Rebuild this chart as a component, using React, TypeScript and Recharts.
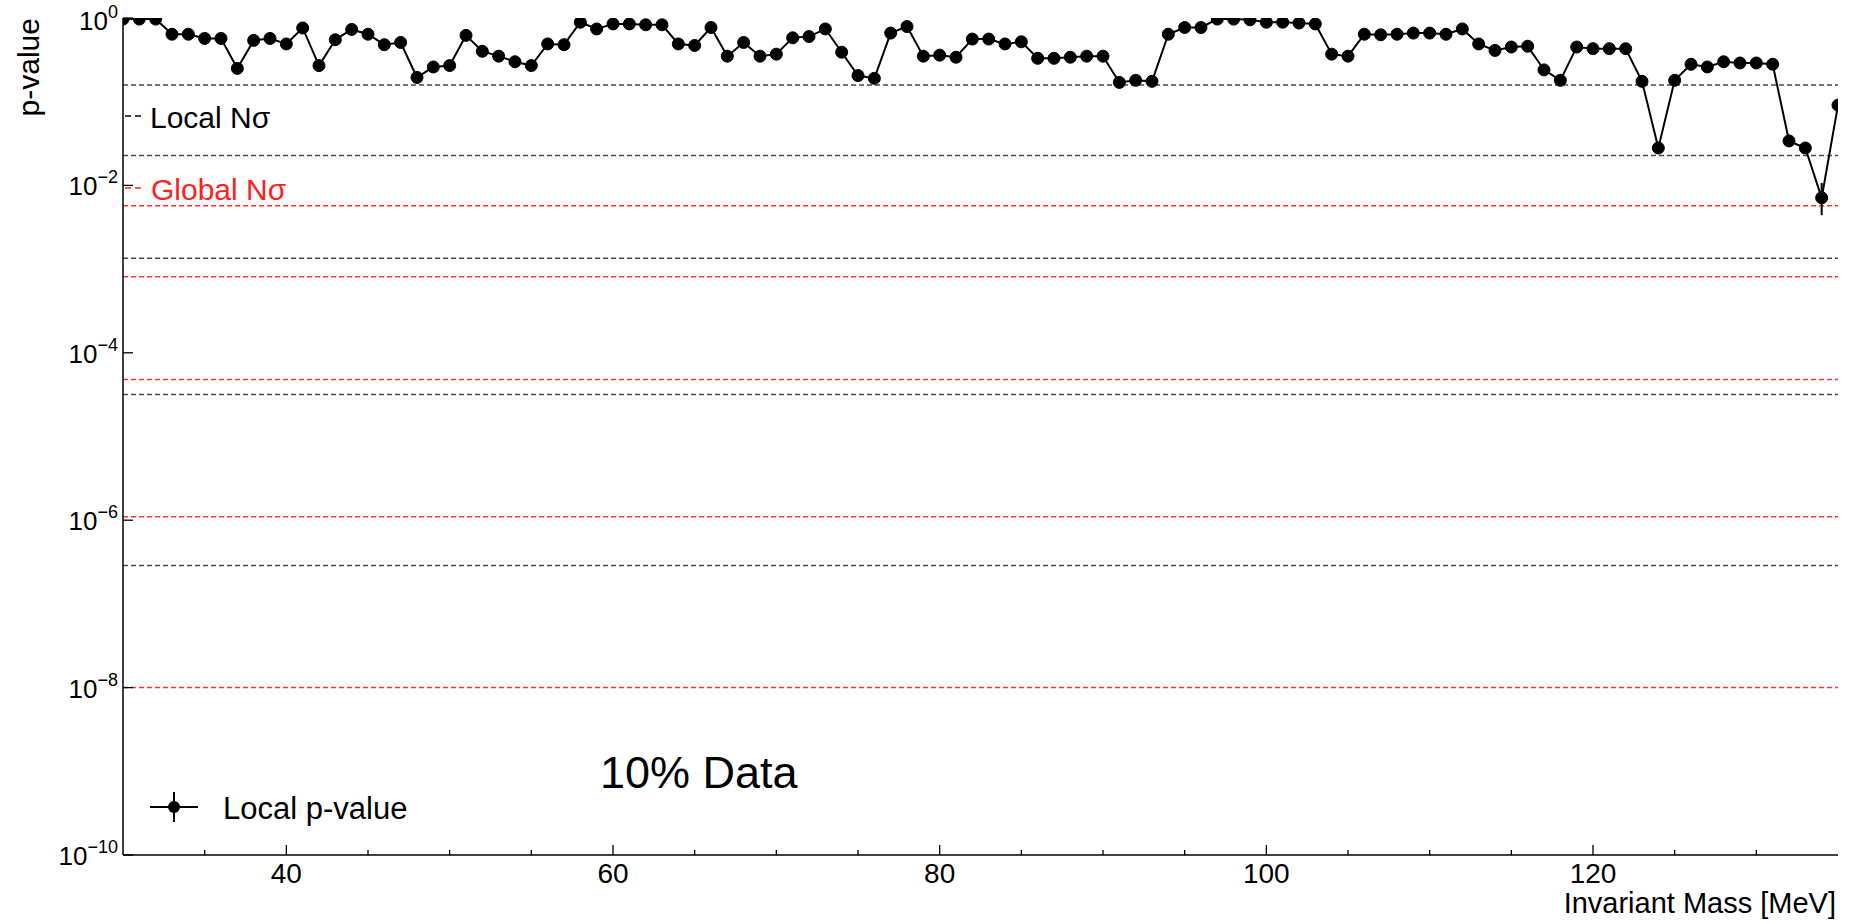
import { LineChart, Line, XAxis, YAxis, ReferenceLine, ErrorBar } from "recharts";

// invariant mass bins [MeV]
const masses = [
    30, 31, 32, 33, 34, 35, 36, 37, 38, 39, 40, 41, 42, 43, 44, 45, 46, 47, 48, 49,
    50, 51, 52, 53, 54, 55, 56, 57, 58, 59, 60, 61, 62, 63, 64, 65, 66, 67, 68, 69,
    70, 71, 72, 73, 74, 75, 76, 77, 78, 79, 80, 81, 82, 83, 84, 85, 86, 87, 88, 89,
    90, 91, 92, 93, 94, 95, 96, 97, 98, 99, 100, 101, 102, 103, 104, 105, 106, 107, 108, 109,
    110, 111, 112, 113, 114, 115, 116, 117, 118, 119, 120, 121, 122, 123, 124, 125, 126, 127, 128, 129,
    130, 131, 132, 133, 134, 135,
];

// local p-value per bin
const pValues = [
    0.97, 0.97, 0.97, 0.64, 0.64, 0.57, 0.57, 0.25, 0.54, 0.57,
    0.49, 0.76, 0.27, 0.55, 0.73, 0.64, 0.48, 0.51, 0.195, 0.26,
    0.27, 0.62, 0.40, 0.35, 0.30, 0.27, 0.49, 0.48, 0.89, 0.74,
    0.85, 0.85, 0.83, 0.83, 0.49, 0.47, 0.77, 0.35, 0.51, 0.35,
    0.37, 0.58, 0.60, 0.74, 0.39, 0.205, 0.19, 0.66, 0.79, 0.35,
    0.36, 0.34, 0.56, 0.56, 0.49, 0.52, 0.33, 0.33, 0.34, 0.35,
    0.35, 0.17, 0.18, 0.175, 0.64, 0.77, 0.77, 0.97, 0.97, 0.95,
    0.89, 0.89, 0.87, 0.85, 0.37, 0.35, 0.64, 0.63, 0.64, 0.66,
    0.66, 0.64, 0.74, 0.49, 0.41, 0.45, 0.46, 0.24, 0.18, 0.45,
    0.43, 0.43, 0.43, 0.175, 0.028, 0.18, 0.28, 0.26, 0.30, 0.29,
    0.29, 0.28, 0.034, 0.028, 0.0071, 0.091,
];

// [down, up] uncertainty where it sticks out of the marker
const pErrors: Record<number, [number, number]> = { 134: [0.0027, 0.0036] };

// local 1..5 sigma thresholds
const localSigmaP = [0.1587, 0.0228, 0.00135, 3.17e-5, 2.87e-7];
// local p-values matching global 1..5 sigma
const globalSigmaP = [0.0057, 8.1e-4, 4.8e-5, 1.1e-6, 1.0e-8];

const xTicks = [35, 40, 45, 50, 55, 60, 65, 70, 75, 80, 85, 90, 95, 100, 105, 110, 115, 120, 125, 130];
const xLabelTicks = [40, 60, 80, 100, 120];
const yTicks = [1e-10, 1e-8, 1e-6, 1e-4, 1e-2, 1];

const data = masses.map((m, i) => ({ mass: m, p: pValues[i], err: pErrors[m] ?? [0, 0] }));

const FONT = '"Liberation Sans", Arial, sans-serif';

function BottomTick({ x, y, payload }: any) {
    const major = xLabelTicks.includes(payload.value);
    return (
        <g>
            <line x1={x} y1={y} x2={x} y2={y - (major ? 10 : 5)} stroke="#000" strokeWidth={1.3} />
            {major && (
                <text x={x} y={y + 18} textAnchor="middle" dominantBaseline="central" fontSize={28} fontFamily={FONT} fill="#000">
                    {payload.value}
                </text>
            )}
        </g>
    );
}

function TopTick({ x, y, payload }: any) {
    const major = xLabelTicks.includes(payload.value);
    return <line x1={x} y1={y} x2={x} y2={y + (major ? 10 : 5)} stroke="#000" strokeWidth={1.3} />;
}

function LeftTick({ x, y, payload }: any) {
    const exp = Math.round(Math.log10(payload.value));
    const shift = exp === 0 ? 2 : 0;
    return (
        <g>
            <line x1={x} y1={y} x2={x + 10} y2={y} stroke="#000" strokeWidth={1.3} />
            <text x={x - 5} y={y + 1 + shift} textAnchor="end" dominantBaseline="central" fontSize={26} fontFamily={FONT} fill="#000">
                <tspan>10</tspan>
                <tspan dy={-9} fontSize={18}>{exp === 0 ? "0" : `\u2212${-exp}`}</tspan>
            </text>
        </g>
    );
}

function RightTick({ x, y }: any) {
    return <line x1={x} y1={y} x2={x - 10} y2={y} stroke="#000" strokeWidth={1.3} />;
}

export default function App() {
    return (
        <div style={{ position: "fixed", left: 0, top: 0, width: 1855, height: 924, background: "#fff" }}>
            <LineChart width={1855} height={924} data={data} margin={{ top: 18, right: 17, bottom: 0, left: 0 }}>
                <XAxis
                    dataKey="mass"
                    type="number"
                    domain={[30, 135]}
                    ticks={xTicks}
                    interval={0}
                    height={69}
                    tickSize={0}
                    tickMargin={0}
                    tick={<BottomTick />}
                    axisLine={{ stroke: "#000", strokeWidth: 1.5 }}
                    allowDataOverflow
                />
                <XAxis
                    xAxisId="top"
                    orientation="top"
                    dataKey="mass"
                    type="number"
                    domain={[30, 135]}
                    ticks={xTicks}
                    interval={0}
                    height={0}
                    tickSize={0}
                    tickMargin={0}
                    tick={<TopTick />}
                    axisLine={{ stroke: "#000", strokeWidth: 1.5 }}
                    allowDataOverflow
                />
                <YAxis
                    type="number"
                    scale="log"
                    domain={[1e-10, 1]}
                    ticks={yTicks}
                    interval={0}
                    width={123}
                    tickSize={0}
                    tickMargin={0}
                    tick={<LeftTick />}
                    axisLine={{ stroke: "#000", strokeWidth: 1.5 }}
                    allowDataOverflow
                />
                <YAxis
                    yAxisId="right"
                    orientation="right"
                    type="number"
                    scale="log"
                    domain={[1e-10, 1]}
                    ticks={yTicks}
                    interval={0}
                    width={0}
                    tickSize={0}
                    tickMargin={0}
                    tick={<RightTick />}
                    axisLine={{ stroke: "#000", strokeWidth: 1.5 }}
                    allowDataOverflow
                />
                {localSigmaP.map((p) => (
                    <ReferenceLine key={`l${p}`} y={p} stroke="#4a4a4a" strokeWidth={1.5} strokeDasharray="5 3" />
                ))}
                {globalSigmaP.map((p) => (
                    <ReferenceLine key={`g${p}`} y={p} stroke="#ff3333" strokeWidth={1.5} strokeDasharray="5 3" />
                ))}
                <Line
                    dataKey="p"
                    stroke="#000"
                    strokeWidth={2}
                    dot={{ r: 6, fill: "#000", stroke: "#000", strokeWidth: 1 }}
                    activeDot={false}
                    isAnimationActive={false}
                >
                    <ErrorBar dataKey="err" direction="y" width={0} stroke="#000" strokeWidth={2} />
                </Line>
            </LineChart>

            <svg width={1855} height={924} style={{ position: "absolute", left: 0, top: 0, pointerEvents: "none" }}>
                <text transform="translate(39,18) rotate(-90)" textAnchor="end" fontSize={30} fontFamily={FONT} fill="#000">
                    p-value
                </text>

                <line x1={125} y1={116} x2={141} y2={116} stroke="#000" strokeWidth={1.5} strokeDasharray="6 4" />
                <text x={150} y={117} dominantBaseline="central" fontSize={30} fontFamily={FONT} fill="#000">
                    Local Nσ
                </text>
                <line x1={125} y1={188} x2={141} y2={188} stroke="#ff2020" strokeWidth={1.5} strokeDasharray="6 4" />
                <text x={151} y={189} dominantBaseline="central" fontSize={30} fontFamily={FONT} fill="#ff2020">
                    Global Nσ
                </text>

                <line x1={150} y1={807} x2={198} y2={807} stroke="#000" strokeWidth={2} />
                <line x1={174} y1={792} x2={174} y2={822} stroke="#000" strokeWidth={2} />
                <circle cx={174} cy={807} r={6} fill="#000" />
                <text x={223} y={808} dominantBaseline="central" fontSize={31} fontFamily={FONT} fill="#000">
                    Local p-value
                </text>

                <text x={600} y={772} dominantBaseline="central" fontSize={45} fontFamily={FONT} fill="#000">
                    10% Data
                </text>

                <text x={1836} y={903} textAnchor="end" dominantBaseline="central" fontSize={29} fontFamily={FONT} fill="#000">
                    Invariant Mass [MeV]
                </text>
            </svg>
        </div>
    );
}
